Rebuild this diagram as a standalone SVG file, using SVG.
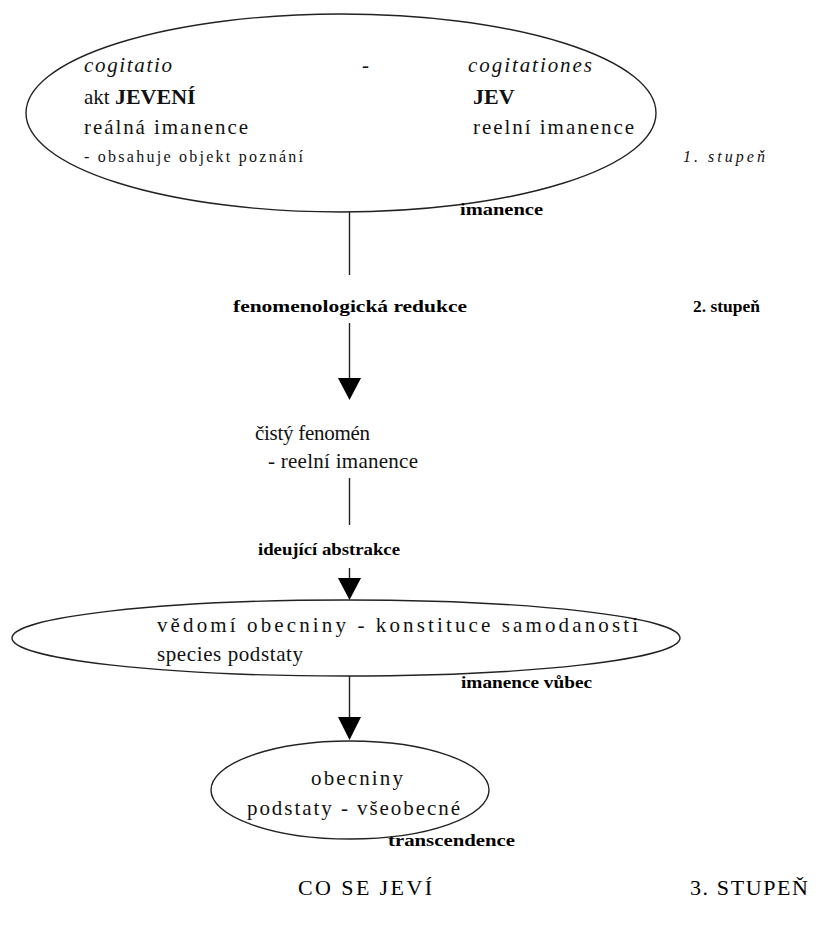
<svg xmlns="http://www.w3.org/2000/svg" width="819" height="929" viewBox="0 0 819 929">
  <style>
    .bg { fill: #ffffff; }
    .shape { fill: none; stroke: #222; stroke-width: 1.4; }
    .line { stroke: #222; stroke-width: 1.4; fill: none; }
    .head { fill: #000; }
    .t { font-family: "Liberation Serif", "Times New Roman", serif; font-size: 21px; fill: #111; }
    .it { font-style: italic; }
    .sm { font-size: 16px; }
    .b { font-family: "Liberation Serif", serif; font-weight: bold; font-size: 17.5px; fill: #000; }
    .big { font-family: "Liberation Serif", serif; font-weight: bold; font-size: 22px; }
    .cap { font-family: "Liberation Serif", "Times New Roman", serif; font-size: 22px; fill: #000; }
  </style>
  <rect class="bg" x="0" y="0" width="819" height="929"/>

  <!-- stage 1: cogitatio / cogitationes -->
  <g id="node-cogitatio">
    <ellipse class="shape" cx="341" cy="113" rx="315" ry="99"/>
    <text class="t it" x="84" y="72" textLength="88" lengthAdjust="spacing">cogitatio</text>
    <text class="t" x="362" y="72">-</text>
    <text class="t it" x="468" y="72" textLength="124" lengthAdjust="spacing">cogitationes</text>
    <text class="t" x="84" y="104">akt <tspan class="big">JEVENÍ</tspan></text>
    <text class="t" x="473" y="104"><tspan class="big">JEV</tspan></text>
    <text class="t" x="84" y="134" textLength="164" lengthAdjust="spacing">reálná imanence</text>
    <text class="t" x="473" y="134" textLength="161" lengthAdjust="spacing">reelní imanence</text>
    <text class="t sm" x="84" y="162" textLength="219" lengthAdjust="spacing">- obsahuje objekt poznání</text>
  </g>
  <text class="t it sm" x="683" y="162" textLength="82" lengthAdjust="spacing">1. stupeň</text>
  <text class="b" x="460" y="215" textLength="83" lengthAdjust="spacingAndGlyphs">imanence</text>

  <!-- stage 2 -->
  <text class="b" x="233" y="312" textLength="234" lengthAdjust="spacingAndGlyphs">fenomenologická redukce</text>
  <text class="b" x="693" y="312" textLength="67" lengthAdjust="spacingAndGlyphs">2. stupeň</text>

  <g id="node-cisty-fenomen">
    <text class="t" x="255" y="440" textLength="115" lengthAdjust="spacing">čistý fenomén</text>
    <text class="t" x="268" y="468" textLength="150" lengthAdjust="spacing">- reelní imanence</text>
  </g>

  <text class="b" x="258" y="555" textLength="142" lengthAdjust="spacingAndGlyphs">ideující abstrakce</text>

  <g id="node-vedomi-obecniny">
    <ellipse class="shape" cx="346" cy="638" rx="334" ry="38"/>
    <text class="t" x="157" y="632" textLength="481" lengthAdjust="spacing">vědomí obecniny - konstituce samodanosti</text>
    <text class="t" x="157" y="661" textLength="146" lengthAdjust="spacing">species podstaty</text>
  </g>
  <text class="b" x="461" y="688" textLength="131" lengthAdjust="spacingAndGlyphs">imanence vůbec</text>

  <g id="node-obecniny">
    <ellipse class="shape" cx="350" cy="790" rx="139" ry="49"/>
    <text class="t" x="311" y="785" textLength="92" lengthAdjust="spacing">obecniny</text>
    <text class="t" x="247" y="815" textLength="213" lengthAdjust="spacing">podstaty - všeobecné</text>
  </g>
  <text class="b" x="388" y="846" textLength="127" lengthAdjust="spacingAndGlyphs">transcendence</text>

  <!-- stage 3 -->
  <text class="cap" x="298" y="895" textLength="134" lengthAdjust="spacing">CO SE JEVÍ</text>
  <text class="cap" x="690" y="895" textLength="118" lengthAdjust="spacing">3. STUPEŇ</text>

  <!-- connectors -->
  <g id="connectors">
    <line class="line" x1="349.5" y1="212" x2="349.5" y2="275"/>
    <line class="line" x1="349.5" y1="323" x2="349.5" y2="380"/>
    <path class="head" d="M338,378 L361,378 L349.5,400 Z"/>
    <line class="line" x1="349.5" y1="478" x2="349.5" y2="525"/>
    <line class="line" x1="349.5" y1="568" x2="349.5" y2="580"/>
    <path class="head" d="M338,578 L361,578 L349.5,600 Z"/>
    <line class="line" x1="349.5" y1="676" x2="349.5" y2="719"/>
    <path class="head" d="M338,717 L361,717 L349.5,740 Z"/>
  </g>
</svg>
